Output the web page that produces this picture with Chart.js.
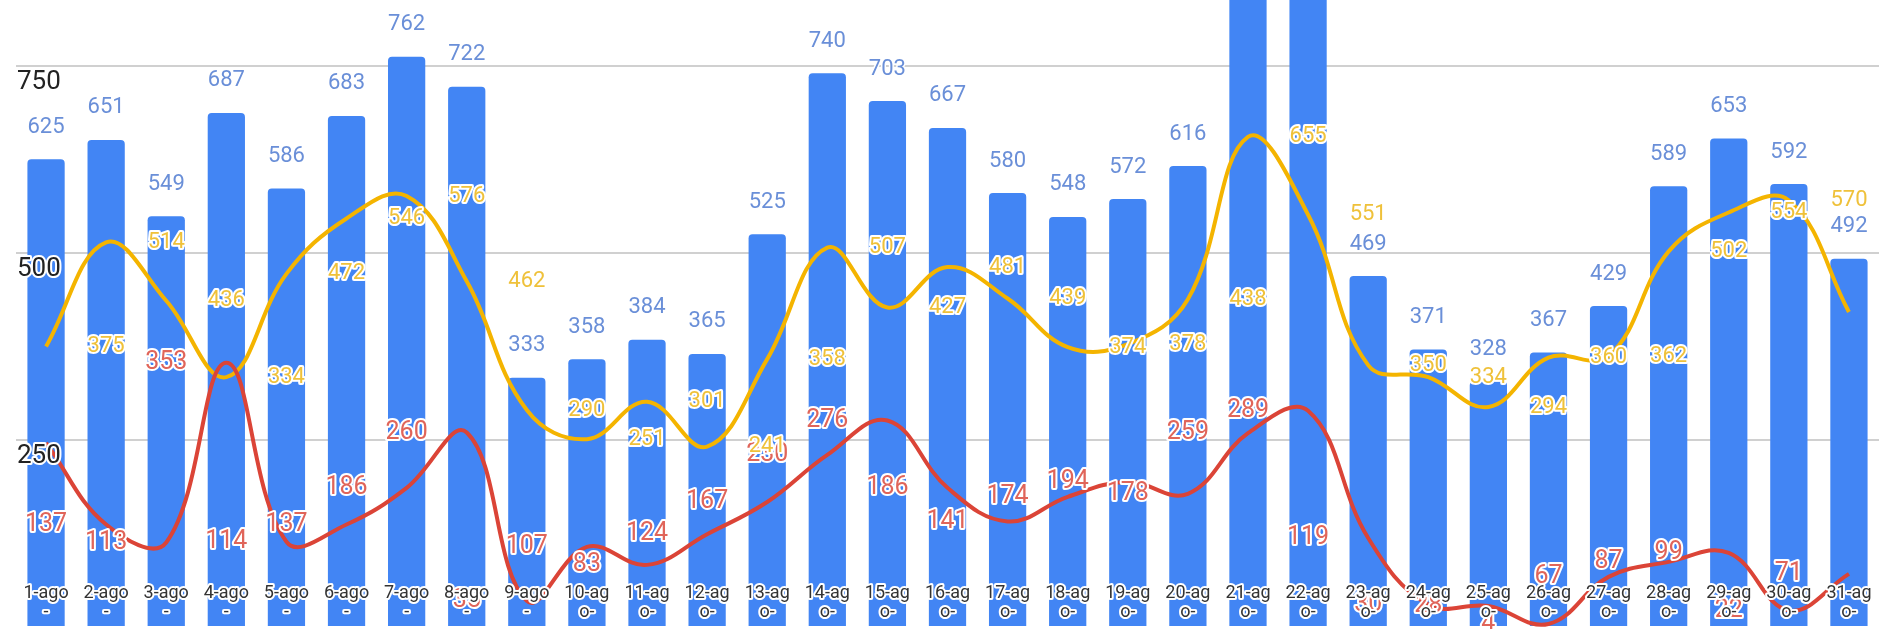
<!DOCTYPE html>
<html>
<head>
<meta charset="utf-8">
<script src="https://cdn.jsdelivr.net/npm/chart.js@4/dist/chart.umd.min.js"></script>
<style>
  html, body { margin: 0; padding: 0; background: #fff; }
</style>
</head>
<body>
<canvas id="grafico" width="1881" height="629"></canvas>
<script>
// Dias do mês (o rótulo quebra em duas linhas, como no original)
const dias = ['1-ago-', '2-ago-', '3-ago-', '4-ago-', '5-ago-', '6-ago-', '7-ago-', '8-ago-', '9-ago-', '10-ago-',
  '11-ago-', '12-ago-', '13-ago-', '14-ago-', '15-ago-', '16-ago-', '17-ago-', '18-ago-', '19-ago-', '20-ago-',
  '21-ago-', '22-ago-', '23-ago-', '24-ago-', '25-ago-', '26-ago-', '27-ago-', '28-ago-', '29-ago-', '30-ago-', '31-ago-'];

// Barras azuis
const barras = [625, 651, 549, 687, 586, 683, 762, 722, 333, 358, 384, 365, 525, 740, 703, 667,
  580, 548, 572, 616, 883, 866, 469, 371, 328, 367, 429, 589, 653, 592, 492];

// Linha amarela
const amarela = [375, 514, 436, 334, 472, 546, 576, 462, 290, 251, 301, 241, 358, 507, 427, 481,
  439, 374, 378, 438, 655, 551, 350, 334, 294, 360, 362, 502, 554, 570, 421];

// Linha vermelha
const vermelha = [246, 137, 113, 353, 114, 137, 186, 260, 35, 107, 83, 124, 167, 230, 276, 186,
  141, 174, 194, 178, 259, 289, 119, 30, 28, 4, 67, 87, 99, 22, 71];

// Marcas do eixo Y
const passoY = 250;
const minY = -2.7;
const maxY = 838;

function textoComContorno(ctx, txt, x, y, cor, larguraContorno) {
  ctx.lineWidth = larguraContorno;
  ctx.strokeStyle = '#fff';
  ctx.lineJoin = 'round';
  ctx.strokeText(txt, x, y);
  ctx.fillStyle = cor;
  ctx.fillText(txt, x, y);
}

// Plugin que escreve os rótulos de dados e dos eixos por cima das séries
const rotulos = {
  id: 'rotulos',
  afterDatasetsDraw(chart) {
    const ctx = chart.ctx;
    const xs = chart.scales.x;
    const ys = chart.scales.y;
    const n = dias.length;
    ctx.save();
    ctx.textAlign = 'center';
    ctx.textBaseline = 'middle';

    // valores das barras, acima de cada barra
    ctx.font = '22px Roboto';
    barras.forEach((v, i) => {
      textoComContorno(ctx, String(v), xs.getPixelForValue(i), ys.getPixelForValue(v) - 32, '#6a8fd8', 3);
    });

    // cada linha tem o rótulo deslocado de uma categoria (como na imagem)
    chart.data.datasets.forEach(ds => {
      if (ds.type !== 'line') return;
      ctx.font = ds.fonteRotulo;
      ds.data.forEach((v, i) => {
        const j = i + ds.deslocRotulo;
        if (j < 0 || j >= n) return;
        textoComContorno(ctx, String(v), xs.getPixelForValue(j), ys.getPixelForValue(v), ds.corRotulo, 4);
      });
    });

    // marcas do eixo Y, dentro da área do gráfico
    ctx.textAlign = 'left';
    ctx.font = '26px Roboto';
    ys.ticks.forEach(t => {
      if (t.value <= 0) return;
      textoComContorno(ctx, String(t.value), chart.chartArea.left + 1, ys.getPixelForValue(t.value) + 17, '#222', 4);
    });

    // rótulos do eixo X, em duas linhas sobre as barras
    ctx.textAlign = 'center';
    ctx.font = '18px Roboto';
    const base = chart.chartArea.bottom;
    dias.forEach((d, i) => {
      const x = xs.getPixelForValue(i);
      textoComContorno(ctx, d.slice(0, 5), x, base - 36, '#333', 4);
      textoComContorno(ctx, d.slice(5), x, base - 17, '#333', 4);
    });
    ctx.restore();
  }
};

const ctx = document.getElementById('grafico').getContext('2d');

const chart = new Chart(ctx, {
  data: {
    labels: dias,
    datasets: [
      {
        type: 'line', data: vermelha, borderColor: '#db4437', borderWidth: 4,
        pointRadius: 0, tension: 0.4, order: 0,
        deslocRotulo: -1, corRotulo: '#e0655a', fonteRotulo: '25px Roboto'
      },
      {
        type: 'line', data: amarela, borderColor: '#f4b400', borderWidth: 4,
        pointRadius: 0, tension: 0.4, order: 1,
        deslocRotulo: 1, corRotulo: '#efc13a', fonteRotulo: '22px Roboto'
      },
      {
        type: 'bar', data: barras, backgroundColor: '#4285f4',
        borderRadius: 4, barPercentage: 0.62, categoryPercentage: 1, order: 2
      }
    ]
  },
  options: {
    responsive: false,
    animation: false,
    devicePixelRatio: 1,
    layout: { padding: { left: 16, right: 2, top: 0, bottom: 0 } },
    plugins: { legend: { display: false }, tooltip: { enabled: false } },
    scales: {
      x: { display: false },
      y: {
        min: minY, max: maxY,
        ticks: { display: false, stepSize: passoY, includeBounds: false },
        grid: {
          drawTicks: false,
          lineWidth: 2,
          color: c => (c.tick && c.tick.value > 0 ? '#d0d0d0' : 'rgba(0,0,0,0)')
        },
        border: { display: false }
      }
    }
  },
  plugins: [rotulos]
});
</script>
</body>
</html>
